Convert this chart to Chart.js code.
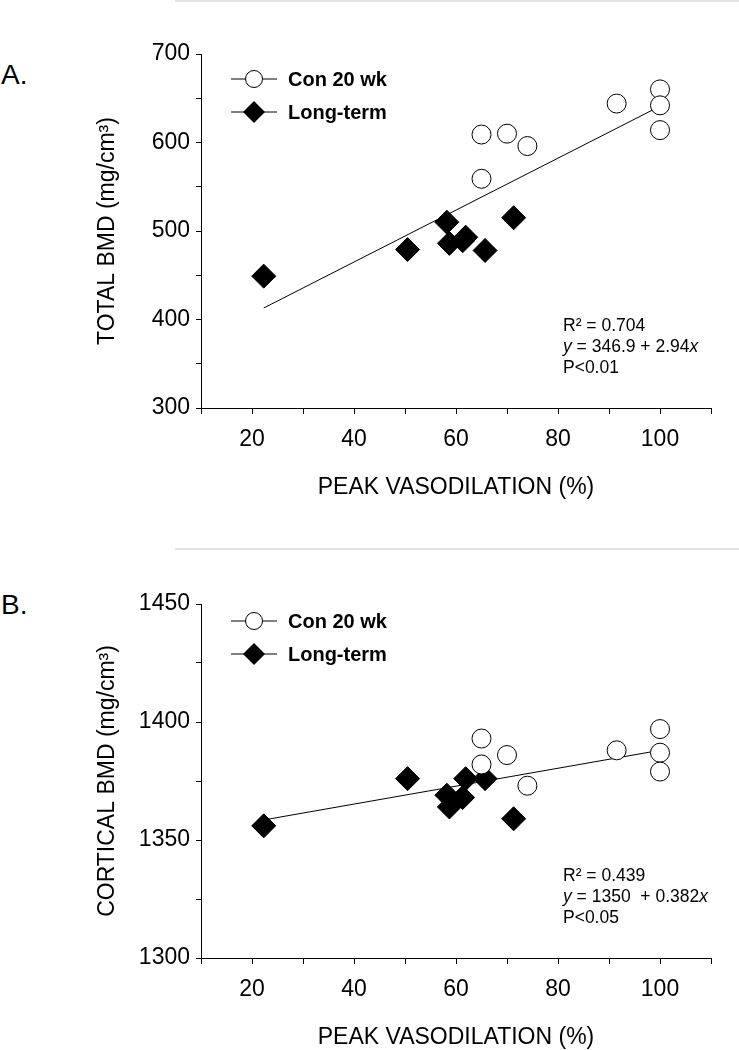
<!DOCTYPE html>
<html lang="en">
<head>
<meta charset="UTF-8">
<title>BMD vs peak vasodilation</title>
<script src="https://cdn.jsdelivr.net/npm/chart.js"></script>
<style>
  body { margin: 0; background: #fff; width: 739px; height: 1050px; position: relative; overflow: hidden;
         font-family: "Liberation Sans", Arial, sans-serif; }
  .rule { position: absolute; left: 175px; right: 0; height: 2px; background: #e4e4e4; }
  .panel { position: absolute; left: 1px; font-size: 28px; line-height: 1; color: #000; }
  .box { position: absolute; left: 0; width: 739px; height: 525px; }
</style>
</head>
<body>
<div class="rule" style="top:0"></div>
<div class="rule" style="top:548px"></div>
<div class="panel" style="top:61px">A.</div>
<div class="panel" style="top:591px">B.</div>
<div class="box" style="top:0"><canvas id="totalChart" width="739" height="525"></canvas></div>
<div class="box" style="top:550px"><canvas id="corticalChart" width="739" height="525"></canvas></div>

<script>
// values
const conX = [65, 65, 70, 74, 91.5, 100, 100, 100];
const conTotal = [609, 559, 610, 596, 644, 660, 642, 614];
const conCortical = [1393, 1382, 1386, 1373, 1388, 1397, 1387, 1379];

const longX = [22.3, 50.5, 58.2, 58.7, 61.3, 61.9, 65.7, 71.3];
const longTotal = [449, 479, 510, 486, 489, 493, 478, 515];
const longCortical = [1356, 1376, 1369, 1364, 1368, 1376, 1376, 1359];

// regression line end points
const fitX = [22.3, 100];
const fitTotal = [413, 641];
const fitCortical = [1358.5, 1388];

const xLabels = [20, 40, 60, 80, 100];
const totalLabels = [300, 400, 500, 600, 700];
const corticalLabels = [1300, 1350, 1400, 1450];

Chart.defaults.font.family = '"Liberation Sans", Arial, sans-serif';
Chart.defaults.color = '#000';

const pts = (xs, ys) => xs.map((x, i) => ({ x: x, y: ys[i] }));

// legend and stats text drawn over the plot
function overlay(legendY, notes) {
  return {
    id: 'overlay',
    afterDatasetsDraw(chart) {
      const ctx = chart.ctx, a = chart.chartArea;
      ctx.save();
      ctx.strokeStyle = '#000';
      ctx.fillStyle = '#000';
      ctx.lineWidth = 1;
      ctx.textBaseline = 'middle';

      const rows = [
        { label: 'Con 20 wk', y: a.top + legendY[0], diamond: false },
        { label: 'Long-term', y: a.top + legendY[1], diamond: true }
      ];
      rows.forEach(r => {
        ctx.beginPath();
        ctx.moveTo(231, r.y);
        ctx.lineTo(277, r.y);
        ctx.stroke();
        ctx.beginPath();
        if (r.diamond) {
          ctx.moveTo(254 - 11, r.y);
          ctx.lineTo(254, r.y - 11);
          ctx.lineTo(254 + 11, r.y);
          ctx.lineTo(254, r.y + 11);
          ctx.closePath();
          ctx.fillStyle = '#000';
          ctx.fill();
        } else {
          ctx.arc(254, r.y, 8.5, 0, Math.PI * 2);
          ctx.fillStyle = '#fff';
          ctx.fill();
          ctx.stroke();
        }
        ctx.fillStyle = '#000';
        ctx.font = 'bold 20px "Liberation Sans", Arial, sans-serif';
        ctx.fillText(r.label, 288, r.y + 1);
      });

      // R2, equation, P value
      notes.forEach((line, i) => {
        let x = 563;
        const y = a.top + 272 + i * 21;
        line.forEach(seg => {
          ctx.font = (seg[1] ? 'italic ' : '') + '17.5px "Liberation Sans", Arial, sans-serif';
          ctx.fillText(seg[0], x, y);
          x += ctx.measureText(seg[0]).width;
        });
      });
      ctx.restore();
    }
  };
}

function makeChart(id, conY, longY, fitY, yMin, yMax, yStep, yLabels, yTitle, legendY, notes) {
  return new Chart(document.getElementById(id), {
    type: 'scatter',
    data: {
      datasets: [
        {
          label: 'Con 20 wk',
          data: pts(conX, conY),
          pointStyle: 'circle',
          pointRadius: 9.5,
          pointHoverRadius: 9.5,
          backgroundColor: '#fff',
          borderColor: '#000',
          borderWidth: 1,
          order: 1
        },
        {
          label: 'Long-term',
          data: pts(longX, longY),
          pointStyle: 'rectRot',
          pointRadius: 12,
          pointHoverRadius: 12,
          backgroundColor: '#000',
          borderColor: '#000',
          borderWidth: 1,
          order: 1
        },
        {
          type: 'line',
          label: 'fit',
          data: pts(fitX, fitY),
          showLine: true,
          fill: false,
          pointRadius: 0,
          borderColor: '#000',
          borderWidth: 1,
          order: 3
        }
      ]
    },
    options: {
      responsive: false,
      animation: false,
      layout: { padding: { top: 54, right: 28, bottom: 0, left: 0 } },
      plugins: { legend: { display: false }, tooltip: { enabled: false } },
      scales: {
        x: {
          type: 'linear',
          min: 10,
          max: 110,
          afterFit: s => { s.height = 117; },
          ticks: {
            stepSize: 10,
            autoSkip: false,
            maxRotation: 0,
            padding: 12,
            font: { size: 23 },
            callback: v => xLabels.includes(v) ? String(v) : ''
          },
          grid: { drawOnChartArea: false, color: '#000', tickLength: 6 },
          border: { color: '#000', width: 1 },
          title: {
            display: true,
            text: 'PEAK VASODILATION (%)',
            font: { size: 23 },
            padding: { top: 0, bottom: 24 }
          }
        },
        y: {
          min: yMin,
          max: yMax,
          afterFit: s => { s.width = 201; },
          ticks: {
            stepSize: yStep,
            autoSkip: false,
            padding: 6,
            font: { size: 23 },
            callback: v => yLabels.includes(v) ? String(v) : ''
          },
          grid: { drawOnChartArea: false, color: '#000', tickLength: 5 },
          border: { color: '#000', width: 1 },
          title: {
            display: true,
            text: yTitle,
            font: { size: 23 },
            padding: { top: 94, bottom: 0 }
          }
        }
      }
    },
    plugins: [overlay(legendY, notes)]
  });
}

makeChart('totalChart', conTotal, longTotal, fitTotal, 300, 700, 50, totalLabels,
  'TOTAL BMD (mg/cm\u00B3)', [25, 58],
  [[['R\u00B2 = 0.704', false]],
   [['y', true], [' = 346.9 + 2.94', false], ['x', true]],
   [['P<0.01', false]]]);

makeChart('corticalChart', conCortical, longCortical, fitCortical, 1300, 1450, 25, corticalLabels,
  'CORTICAL BMD (mg/cm\u00B3)', [17, 50],
  [[['R\u00B2 = 0.439', false]],
   [['y', true], [' = 1350  + 0.382', false], ['x', true]],
   [['P<0.05', false]]]);
</script>
</body>
</html>
